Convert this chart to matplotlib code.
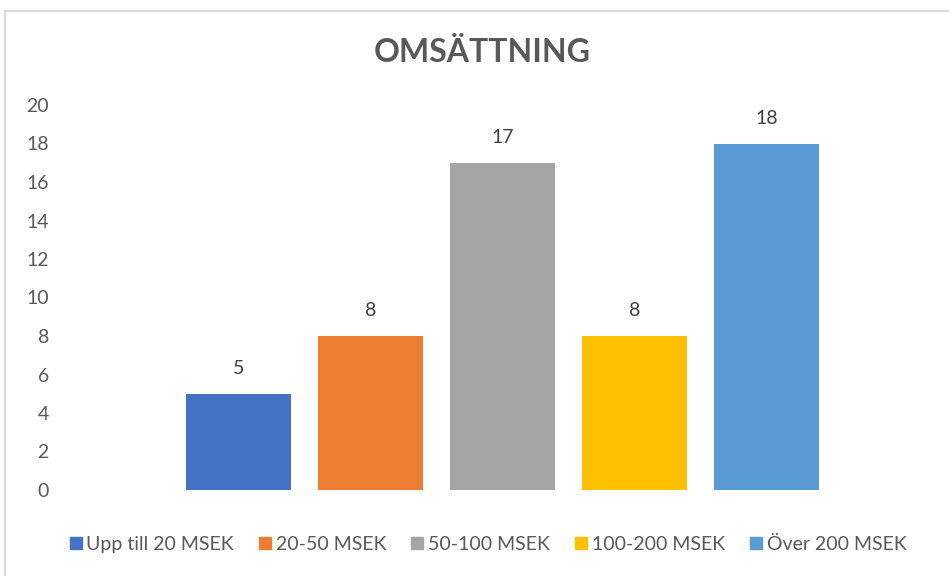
import matplotlib
matplotlib.use("Agg")
import matplotlib.pyplot as plt
from matplotlib.lines import Line2D

categories = ["Upp till 20 MSEK", "20-50 MSEK", "50-100 MSEK", "100-200 MSEK", "Över 200 MSEK"]
values = [5, 8, 17, 8, 18]
colors = ["#4472C4", "#ED7D31", "#A5A5A5", "#FFC000", "#5B9BD5"]
yticks = [0, 2, 4, 6, 8, 10, 12, 14, 16, 18, 20]
title = "OMSÄTTNING"

plt.rcParams['font.family'] = ['Lato', 'DejaVu Sans']
txt = "#595959"

fig = plt.figure(figsize=(9.49, 5.76), dpi=100)
W, H = 949, 576
ax = fig.add_axes([60 / W, 1 - 490 / H, (945 - 60) / W, (490 - 105) / H])

x = list(range(len(values)))
ax.bar(x, values, width=0.79, color=colors, zorder=2)
for xi, v in zip(x, values):
    ax.annotate(str(v), (xi, v), xytext=(0, 12), textcoords="offset points",
                ha="center", va="bottom", fontsize=14, color="#404040")

ax.set_xlim(-1.352, 5.352)
ax.set_ylim(0, 20)
ax.set_yticks(yticks)
ax.set_yticklabels([str(t) for t in yticks], fontsize=14, color=txt)
ax.tick_params(axis="y", length=0, pad=8)
ax.set_xticks([])
for s in ax.spines.values():
    s.set_visible(False)

fig.text(482 / W, 1 - 53 / H, title, ha="center", va="center", fontsize=23,
         fontweight="bold", color=txt)

handles = [Line2D([], [], marker="s", linestyle="none", markersize=8,
                  markerfacecolor=c, markeredgecolor=c) for c in colors]
fig.legend(handles, categories, loc="center", bbox_to_anchor=(488 / W, 1 - 544 / H),
           ncol=5, frameon=False, fontsize=14, handlelength=0.6, handletextpad=0.25,
           columnspacing=1.3, labelcolor=txt)

# chart border
bc = "#D9D9D9"
fig.add_artist(Line2D([5 / W, 5 / W], [0, 1 - 11 / H], transform=fig.transFigure, color=bc, lw=1.5))
fig.add_artist(Line2D([5 / W, 1], [1 - 11 / H, 1 - 11 / H], transform=fig.transFigure, color=bc, lw=1.5))

fig.savefig("out.png", dpi=100)
